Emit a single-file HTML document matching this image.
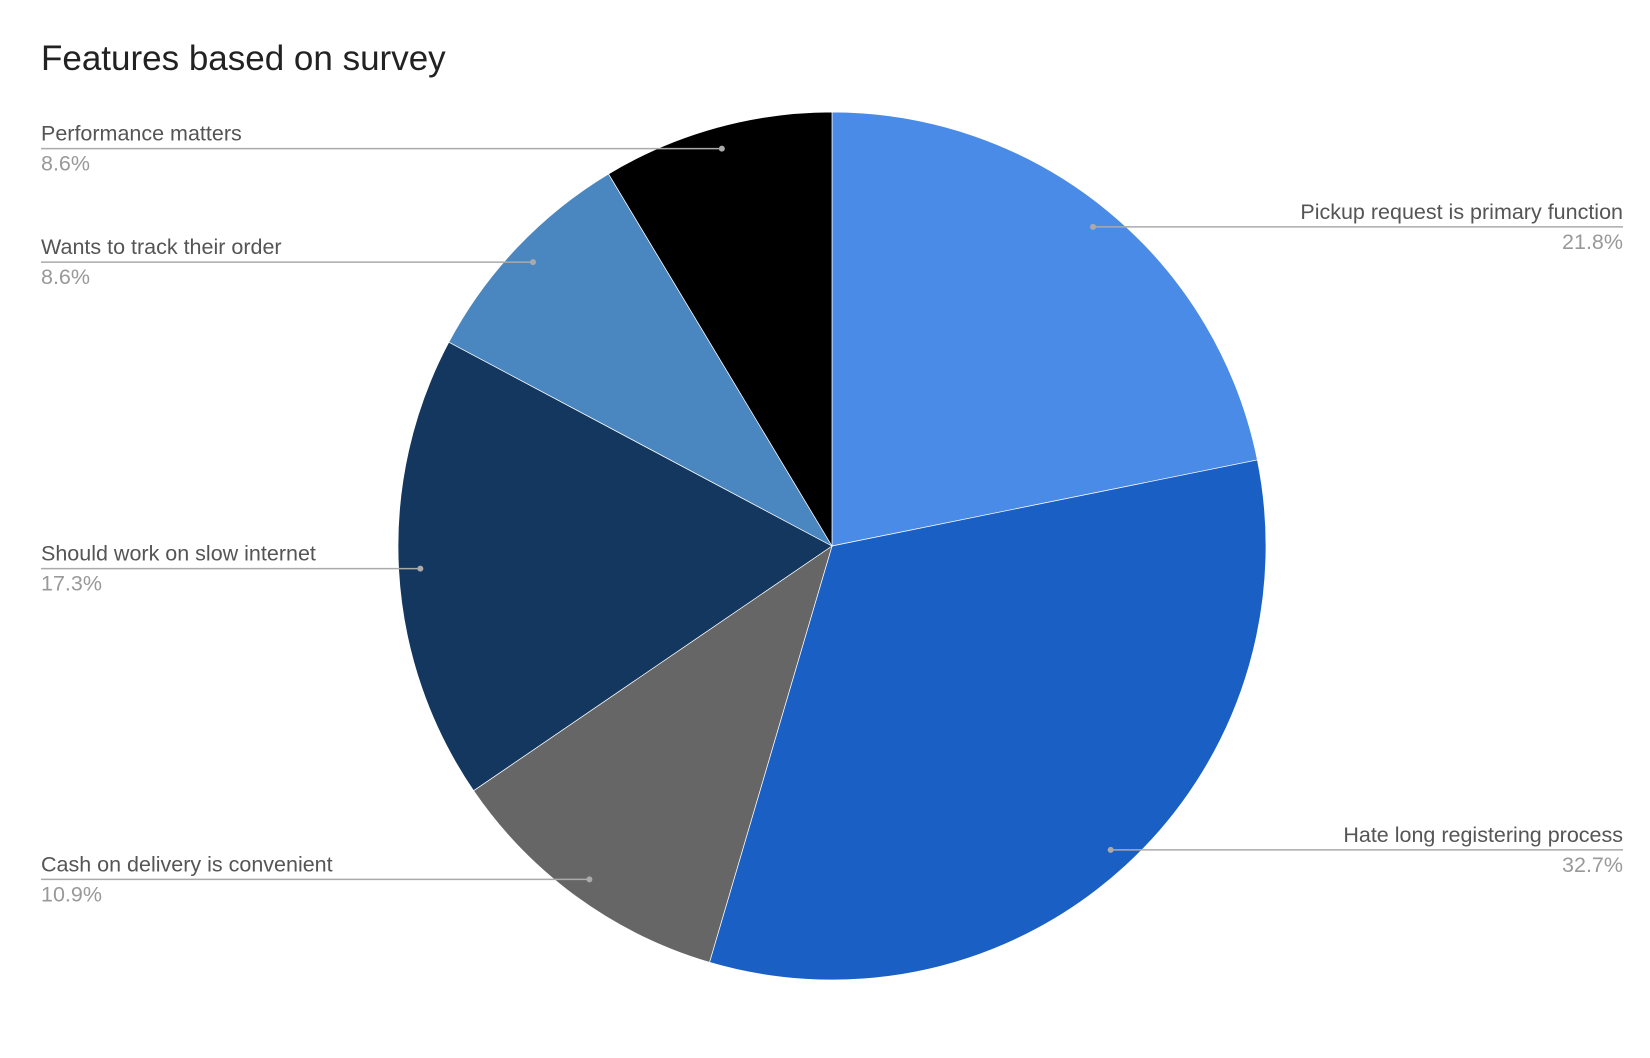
<!DOCTYPE html>
<html><head><meta charset="utf-8"><style>
body{margin:0;background:#fff;}
svg{display:block;font-family:"Liberation Sans",sans-serif;}
</style></head><body>
<svg id="chart" width="1650" height="1058" viewBox="0 0 1650 1058">
<rect width="1650" height="1058" fill="#fff"/>
<text x="41" y="70" font-size="35" fill="#222">Features based on survey</text>
<g id="slices"></g><g id="labels"></g>
</svg>
<script>
const categories=["Pickup request is primary function","Hate long registering process","Cash on delivery is convenient","Should work on slow internet","Wants to track their order","Performance matters"];
const values=[21.8,32.7,10.9,17.3,8.6,8.6];
const pctLabels=["21.8%","32.7%","10.9%","17.3%","8.6%","8.6%"];
const colors=["#4a8be8","#1a5fc4","#666666","#13375e","#4a87c0","#000000"];
const cx=832,cy=546,R=434,NS="http://www.w3.org/2000/svg";
const total=values.reduce((a,b)=>a+b,0);
const sg=document.getElementById('slices'),lg=document.getElementById('labels');
function pt(a,r){return [cx+r*Math.sin(a),cy-r*Math.cos(a)];}
let acc=0;
values.forEach((v,i)=>{
 const a0=acc/total*2*Math.PI;acc+=v;const a1=acc/total*2*Math.PI;
 const p0=pt(a0,R),p1=pt(a1,R);
 const p=document.createElementNS(NS,'path');
 p.setAttribute('d',`M${cx},${cy}L${p0[0]},${p0[1]}A${R},${R} 0 ${a1-a0>Math.PI?1:0} 1 ${p1[0]},${p1[1]}Z`);
 p.setAttribute('fill',colors[i]);p.setAttribute('stroke','#fff');p.setAttribute('stroke-width','0.7');
 
 
 sg.appendChild(p);
 const am=(a0+a1)/2,d=pt(am,R*0.95);
 const right=Math.sin(am)>0;
 const ln=document.createElementNS(NS,'line');
 ln.setAttribute('x1',d[0]);ln.setAttribute('y1',d[1]);ln.setAttribute('x2',right?1623:41);ln.setAttribute('y2',d[1]);
 ln.setAttribute('stroke','#aaa');ln.setAttribute('stroke-width','1.5');
 
 
 lg.appendChild(ln);
 const c=document.createElementNS(NS,'circle');c.setAttribute('cx',d[0]);c.setAttribute('cy',d[1]);c.setAttribute('r','3');c.setAttribute('fill','#aaa');
 
 
 lg.appendChild(c);
 const t=document.createElementNS(NS,'text');t.textContent=categories[i];
 t.setAttribute('x',right?1623:41);t.setAttribute('y',d[1]-8);t.setAttribute('font-size','21.5');t.setAttribute('fill','#555');
 t.setAttribute('text-anchor',right?'end':'start');
 
 
 lg.appendChild(t);
 const q=document.createElementNS(NS,'text');q.textContent=pctLabels[i];
 q.setAttribute('x',right?1623:41);q.setAttribute('y',d[1]+22);q.setAttribute('font-size','21.5');q.setAttribute('fill','#999');
 q.setAttribute('text-anchor',right?'end':'start');
 
 
 lg.appendChild(q);
});
</script>
</body></html>
